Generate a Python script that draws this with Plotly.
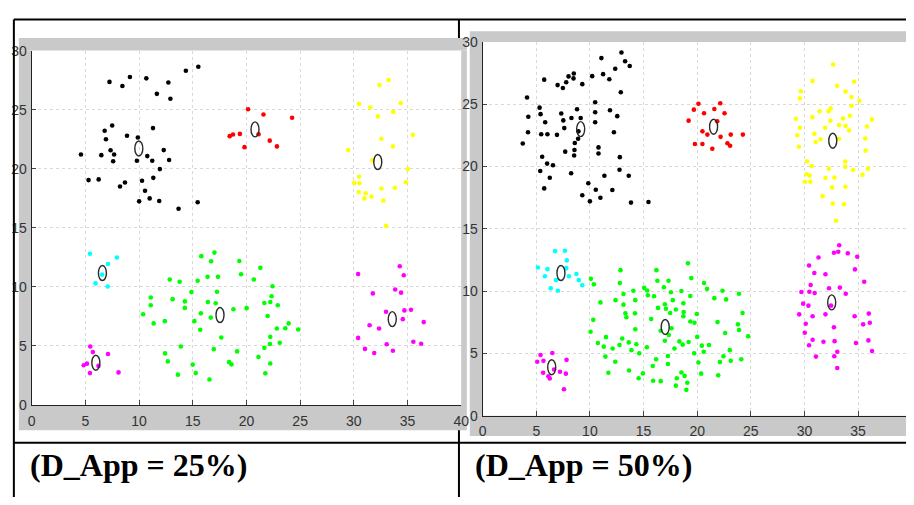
import plotly.graph_objects as go

# ---------------- Panel A : D_App = 25% ----------------
a_black_x = [7.25, 8.45, 9.15, 10.68, 12.73, 14.36, 15.52, 11.66, 12.92, 7.5, 6.8, 6.92, 8.88, 9.89,
             11.3, 4.59, 6.49, 7.35, 7.68, 7.59, 9.8, 10.77, 11.23, 12.3, 12.8, 11.94, 5.3, 6.24,
             8.23, 8.69, 10.28, 11.33, 10.56, 10.01, 10.99, 11.88, 13.68, 15.46]
a_black_y = [27.35, 27.0, 27.76, 27.65, 27.3, 28.3, 28.63, 26.34, 25.93, 23.66, 23.22, 22.5, 22.79, 22.65,
             23.44, 21.2, 21.15, 21.56, 21.2, 20.63, 20.68, 21.07, 20.68, 21.58, 20.74, 19.97, 19.04, 19.1,
             18.5, 18.83, 18.99, 19.23, 18.14, 17.24, 17.49, 17.27, 16.61, 17.16]

a_red_x = [20.15, 21.59, 24.25, 18.44, 18.75, 19.39, 19.82, 21.13, 22.17, 22.84]
a_red_y = [25.03, 24.59, 24.32, 22.76, 22.9, 22.95, 21.83, 22.92, 22.38, 21.89]

a_yellow_x = [32.39, 33.24, 30.49, 31.53, 32.23, 33.67, 34.37, 35.5, 32.57, 33.64, 29.48, 31.71, 35.02,
              34.83, 33.82, 32.57, 32.75, 31.65, 31.1, 30.98, 30.46, 30.03, 30.52, 30.49, 33.0]
a_yellow_y = [27.08, 27.51, 25.49, 25.19, 24.43, 24.81, 25.57, 22.87, 22.54, 21.89, 21.58, 20.71, 19.97,
              18.85, 18.39, 18.33, 17.3, 17.65, 17.92, 17.49, 18.03, 18.8, 18.77, 19.32, 15.16]

a_cyan_x = [5.43, 7.94, 7.11, 5.95, 7.08, 6.56]
a_cyan_y = [12.81, 12.49, 11.94, 10.30, 10.03, 11.04]

a_green_x = [15.80, 17.02, 16.71, 19.34, 21.30, 19.50, 16.38, 17.35, 15.46, 12.86, 13.78, 20.69, 22.43,
             14.88, 17.26, 22.34, 11.09, 11.09, 13.13, 14.27, 14.27, 16.41, 17.14, 21.67, 22.22, 22.92,
             15.76, 16.68, 18.79, 20.02, 21.97, 10.38, 11.36, 12.4, 15.15, 15.70, 23.93, 23.62, 24.82,
             22.83, 22.22, 17.66, 22.19, 23.10, 21.67, 13.9, 16.96, 19.13, 12.43, 12.68, 21.12, 18.39,
             18.61, 15.0, 22.22, 15.28, 13.62, 21.76, 16.56]
a_green_y = [12.60, 12.90, 12.16, 12.19, 11.61, 11.07, 10.85, 10.85, 10.52, 10.63, 10.44, 10.63, 10.05,
             9.56, 9.59, 9.21, 9.10, 8.44, 8.96, 8.77, 8.22, 8.72, 8.61, 8.63, 8.72, 8.44,
             7.76, 7.40, 8.11, 8.20, 7.54, 7.68, 6.91, 7.1, 7.1, 6.37, 6.91, 6.50, 6.39,
             6.48, 5.77, 5.71, 5.16, 5.27, 4.84, 4.95, 4.73, 4.54, 4.37, 3.69, 4.07, 3.63,
             3.44, 3.42, 3.52, 2.70, 2.57, 2.68, 2.16]

a_magenta_x = [5.46, 5.7, 4.85, 5.15, 5.43, 7.11, 6.22, 8.09,
               30.40, 34.28, 34.65, 31.77, 33.85, 34.40, 33.0, 34.71, 35.32, 34.56, 36.51, 31.47,
               32.35, 30.40, 31.04, 31.90, 33.06, 33.64, 35.54, 36.27]
a_magenta_y = [4.95, 4.48, 3.36, 3.5, 2.70, 4.32, 3.31, 2.76,
               11.09, 11.75, 10.98, 9.45, 9.78, 9.51, 7.90, 8.01, 8.06, 7.27, 7.02, 6.75,
               6.48, 5.68, 4.75, 4.40, 5.14, 4.59, 5.36, 5.19]

a_centre_x = [9.98, 20.8, 32.23, 6.59, 17.54, 5.98, 33.58]
a_centre_y = [21.72, 23.33, 20.57, 11.17, 7.62, 3.58, 7.27]

# ---------------- Panel B : D_App = 50% ----------------
b_black_x = [12.94, 11.07, 13.28, 13.71, 12.36, 11.23, 10.21, 11.81, 8.50, 8.47, 8.01, 7.79, 6.99, 7.48,
             5.74, 9.29, 12.88, 4.14, 10.49, 5.31, 5.40, 7.33, 8.80, 7.52, 8.28, 9.14, 10.49, 11.87,
             12.55, 10.49, 4.26, 5.83, 7.61, 8.93, 4.23, 5.46, 6.04, 6.93, 8.90, 12.24, 3.74, 8.59,
             8.56, 8.53, 7.70, 10.80, 10.80, 5.55, 12.79, 6.01, 6.56, 5.37, 12.76, 6.26, 8.25, 11.35,
             13.62, 5.74, 9.85, 10.55, 12.09, 9.29, 10.98, 10.0, 13.83, 15.46]
b_black_y = [29.15, 28.70, 28.45, 28.06, 27.85, 27.41, 27.25, 27.0, 27.46, 27.07, 27.23, 26.76, 26.53, 26.30,
             26.97, 26.61, 25.96, 25.54, 25.16, 24.72, 24.20, 24.25, 24.59, 23.70, 23.89, 23.89, 24.35, 24.51,
             24.04, 23.55, 23.99, 23.55, 23.08, 22.82, 22.75, 22.59, 22.59, 22.54, 22.23, 22.75, 21.84, 21.89,
             21.32, 20.88, 21.19, 21.53, 21.04, 20.78, 20.75, 20.23, 20.10, 19.64, 19.74, 19.09, 19.46, 19.25,
             19.25, 18.24, 18.65, 18.13, 18.11, 17.69, 17.49, 17.20, 17.10, 17.15]

b_red_x = [20.12, 22.15, 19.69, 20.64, 21.60, 22.55, 19.20, 21.87, 20.49, 20.95, 22.18, 23.13, 24.26,
           19.79, 20.49, 21.41, 22.82, 23.07]
b_red_y = [25.03, 25.08, 24.56, 24.27, 24.61, 24.27, 23.68, 23.63, 22.82, 22.56, 22.38, 22.56, 22.56,
           21.81, 21.81, 21.42, 21.87, 21.66]

b_yellow_x = [32.67, 30.74, 34.63, 33.04, 29.66, 29.57, 33.83, 34.39, 35.12, 34.39, 31.41, 32.24, 32.45,
              30.74, 32.42, 33.59, 34.23, 36.29, 29.20, 29.57, 31.93, 33.22, 33.83, 34.17, 35.83, 29.33,
              30.92, 31.50, 31.04, 33.22, 35.67, 29.48, 35.70, 30.25, 30.68, 33.80, 33.80, 32.27, 34.54,
              35.92, 35.40, 30.21, 30.49, 30.03, 30.55, 31.96, 32.79, 32.58, 33.83, 31.69, 32.64, 33.68,
              32.94]
b_yellow_y = [28.19, 26.87, 26.81, 26.48, 26.04, 25.47, 26.01, 25.57, 25.28, 24.87, 24.43, 24.43, 24.66,
              23.96, 23.68, 23.86, 24.07, 23.78, 23.83, 23.11, 23.11, 23.32, 23.26, 22.88, 23.21, 22.51,
              22.62, 22.18, 21.97, 22.23, 22.25, 21.58, 21.27, 20.41, 20.03, 20.39, 19.97, 19.82, 19.72,
              19.82, 19.33, 19.38, 19.27, 18.78, 18.78, 19.07, 19.12, 18.32, 18.37, 17.62, 17.02, 16.97,
              15.65]

b_cyan_x = [6.75, 7.67, 7.85, 5.15, 6.04, 7.79, 5.80, 8.04, 8.74, 6.84, 8.96, 9.29, 6.35, 7.02]
b_cyan_y = [13.21, 13.24, 12.46, 11.89, 11.76, 11.84, 11.19, 11.19, 11.37, 10.88, 10.88, 10.47, 10.23, 10.03]

b_green_x = [19.14, 12.85, 16.20, 19.45, 10.09, 10.37, 12.79, 16.29, 17.33, 16.90, 20.64, 20.92, 15.06,
             15.34, 14.05, 18.53, 17.55, 22.36, 23.90, 13.13, 15.40, 15.98, 19.36, 21.60, 22.70, 10.98,
             12.39, 14.23, 17.73, 13.13, 16.99, 18.71, 16.35, 17.09, 18.01, 17.48, 18.74, 19.97, 24.23,
             13.31, 13.40, 14.20, 18.71, 10.31, 15.71, 19.36, 19.75, 21.90, 23.80, 23.90, 14.23, 16.60,
             17.61, 17.36, 22.61, 24.75, 10.06, 11.50, 10.74, 11.29, 13.01, 12.76, 12.12, 13.62, 14.33,
             13.87, 14.60, 15.31, 16.99, 17.88, 18.34, 18.65, 19.20, 20.0, 20.43, 21.10, 20.61, 19.72,
             23.04, 11.44, 16.17, 17.27, 22.45, 22.12, 23.13, 24.11, 20.12, 12.36, 15.86, 17.27, 11.72,
             13.65, 14.94, 18.53, 20.37, 21.96, 14.54, 18.10, 18.83, 15.89, 16.60, 19.08, 18.01, 18.99]
b_green_y = [12.23, 11.68, 11.68, 11.04, 10.98, 10.54, 10.65, 10.83, 10.83, 10.31, 10.65, 10.18, 10.26,
             10.05, 10.03, 10.0, 9.90, 10.03, 9.79, 9.77, 9.66, 9.59, 9.61, 9.43, 9.33, 9.09,
             9.27, 9.27, 9.27, 8.91, 8.94, 9.02, 8.65, 8.58, 8.52, 8.24, 8.32, 8.16, 8.24,
             8.21, 7.90, 8.21, 7.98, 7.69, 7.75, 7.56, 7.46, 7.51, 7.33, 6.87, 6.94, 6.81,
             7.02, 6.48, 6.63, 6.37, 6.74, 6.30, 5.83, 5.54, 6.19, 5.67, 5.39, 5.88, 5.73,
             5.26, 5.0, 5.49, 6.01, 5.39, 5.96, 5.70, 5.91, 6.32, 5.62, 5.67, 5.13, 5.0,
             5.26, 4.74, 4.53, 4.79, 4.77, 4.30, 4.40, 4.53, 4.27, 4.33, 3.99, 4.15, 3.45,
             3.63, 3.39, 3.47, 3.37, 3.24, 3.0, 3.0, 3.19, 2.80, 2.77, 2.64, 2.41, 2.07]

b_magenta_x = [5.40, 5.09, 5.67, 6.50, 7.82, 5.64, 6.13, 6.26, 6.66, 7.21, 7.76, 7.58,
               33.24, 32.75, 33.15, 34.04, 31.31, 34.92, 30.43, 30.92, 31.96, 34.71, 35.57, 30.58,
               32.29, 33.30, 29.72, 30.46, 30.95, 33.85, 29.88, 30.37, 32.48, 29.51, 30.76, 31.96,
               34.68, 36.0, 36.09, 35.47, 32.75, 30.12, 30.03, 30.76, 31.77, 32.81, 34.80, 35.96,
               30.43, 36.30, 33.06, 32.78, 31.07, 33.06]
b_magenta_y = [4.87, 4.33, 4.40, 5.03, 4.48, 3.45, 3.16, 2.98, 3.70, 3.52, 3.37, 2.12,
               13.68, 13.08, 13.16, 13.03, 12.69, 12.75, 12.05, 11.45, 11.35, 11.74, 10.75, 10.49,
               10.23, 10.28, 9.92, 9.95, 9.84, 9.79, 8.99, 8.83, 8.83, 8.13, 7.98, 8.13,
               7.98, 8.19, 7.46, 7.33, 7.10, 7.38, 6.66, 6.09, 5.93, 5.98, 5.83, 6.04,
               5.65, 5.18, 5.13, 4.77, 4.74, 3.83]

b_centre_x = [9.14, 21.53, 32.64, 7.30, 17.02, 6.44, 32.54]
b_centre_y = [23.0, 23.19, 22.07, 11.45, 7.12, 3.89, 9.09]

tick_vals = [0, 5, 10, 15, 20, 25, 30, 35, 40]
tick_text = ["0", "5", "10", "15", "20", "25", "30", "35", "40"]
y_tick_vals = [0, 5, 10, 15, 20, 25, 30]
y_tick_text = ["0", "5", "10", "15", "20", "25", "30"]
captions = ["(D_App = 25%)", "(D_App = 50%)"]

COLOURS = {"black": "#000000", "red": "#ff0000", "yellow": "#ffff00",
           "cyan": "#00ffff", "green": "#00ff00", "magenta": "#ff00ff"}

W, H = 914, 505


def px(x):
    return x / W


def py(y):
    return 1 - y / H


fig = go.Figure()

panels = [
    ("x", "y", [("black", a_black_x, a_black_y), ("red", a_red_x, a_red_y),
                ("yellow", a_yellow_x, a_yellow_y), ("cyan", a_cyan_x, a_cyan_y),
                ("green", a_green_x, a_green_y), ("magenta", a_magenta_x, a_magenta_y)],
     a_centre_x, a_centre_y),
    ("x2", "y2", [("black", b_black_x, b_black_y), ("red", b_red_x, b_red_y),
                  ("yellow", b_yellow_x, b_yellow_y), ("cyan", b_cyan_x, b_cyan_y),
                  ("green", b_green_x, b_green_y), ("magenta", b_magenta_x, b_magenta_y)],
     b_centre_x, b_centre_y),
]

shapes = []
for xa, ya, clusters, cx, cy in panels:
    for name, xs, ys in clusters:
        fig.add_trace(go.Scatter(
            x=xs, y=ys, xaxis=xa, yaxis=ya, mode="markers",
            marker=dict(symbol="circle", size=4.6, color=COLOURS[name], line=dict(width=0)),
            hoverinfo="skip", showlegend=False))
    # cluster centres drawn as tall open ellipses anchored on the data values
    for x0, y0 in zip(cx, cy):
        shapes.append(dict(
            type="circle", xref=xa, yref=ya, layer="above",
            xsizemode="pixel", ysizemode="pixel", xanchor=x0, yanchor=y0,
            x0=-4, x1=4, y0=-7.5, y1=7.5,
            line=dict(color="#2a2a2a", width=1.4), fillcolor="rgba(0,0,0,0)"))

GRAY = "#c9c9c9"


def band(x0, y0, x1, y1):
    return dict(type="rect", xref="paper", yref="paper", layer="below",
                x0=px(x0), x1=px(x1), y0=py(y1), y1=py(y0),
                fillcolor=GRAY, line=dict(width=0))


# grey frames around the two plot areas
shapes += [
    band(15, 31, 469, 44), band(15, 410, 469, 436), band(15, 44, 28, 410), band(463.3, 44, 469, 410),
    band(472, 24, 914, 35), band(472, 421, 914, 442), band(472, 35, 485, 421),
]


def hline(y, x0, x1):
    return dict(type="line", xref="paper", yref="paper", layer="above",
                x0=px(x0), x1=px(x1), y0=py(y), y1=py(y), line=dict(color="black", width=2))


def vline(x, y0, y1):
    return dict(type="line", xref="paper", yref="paper", layer="above",
                x0=px(x), x1=px(x), y0=py(y0), y1=py(y1), line=dict(color="black", width=2))


# table rules
shapes += [
    hline(12, 10, 914), hline(449, 10, 914),
    vline(10, 12, 505), vline(461, 12, 31), vline(461, 436, 505),
]

tick_font = dict(family="Liberation Sans Narrow, Arial Narrow, Liberation Sans, sans-serif",
                 size=14, color="#333333")

axis_common = dict(
    showgrid=True, gridcolor="#d9d9d9", griddash="dot", gridwidth=1,
    zeroline=False, showline=True, linecolor="#222222", linewidth=1,
    ticks="inside", tickcolor="#444444", tickfont=tick_font, mirror=False,
    fixedrange=True,
)

fig.update_layout(
    width=W, height=H, margin=dict(l=0, r=0, t=0, b=0),
    paper_bgcolor="white", plot_bgcolor="white", showlegend=False,
    xaxis=dict(domain=[px(28), px(463.3)], range=[0, 40], anchor="y",
               tickvals=tick_vals, ticktext=tick_text, ticklen=5, ticklabelstandoff=3,
               **axis_common),
    yaxis=dict(domain=[py(410), py(44)], range=[0, 30], anchor="x",
               tickvals=y_tick_vals, ticktext=y_tick_text, ticklen=4, ticklabelstandoff=1,
               **axis_common),
    xaxis2=dict(domain=[px(485), 1], range=[0, (914 - 485) / 10.87], anchor="y2",
                tickvals=tick_vals, ticktext=tick_text, ticklen=5, ticklabelstandoff=3,
                **axis_common),
    yaxis2=dict(domain=[py(421), py(35)], range=[0, 30], anchor="x2",
                tickvals=y_tick_vals, ticktext=y_tick_text, ticklen=4, ticklabelstandoff=1,
                **axis_common),
    shapes=shapes,
    annotations=[
        dict(text="<b>" + captions[0] + "</b>", xref="paper", yref="paper",
             x=px(24), y=py(472), xanchor="left", yanchor="middle", showarrow=False,
             font=dict(family="Liberation Serif, Times New Roman, serif", size=32, color="black")),
        dict(text="<b>" + captions[1] + "</b>", xref="paper", yref="paper",
             x=px(475), y=py(472), xanchor="left", yanchor="middle", showarrow=False,
             font=dict(family="Liberation Serif, Times New Roman, serif", size=32, color="black")),
    ],
)

fig.write_html("out.html")
